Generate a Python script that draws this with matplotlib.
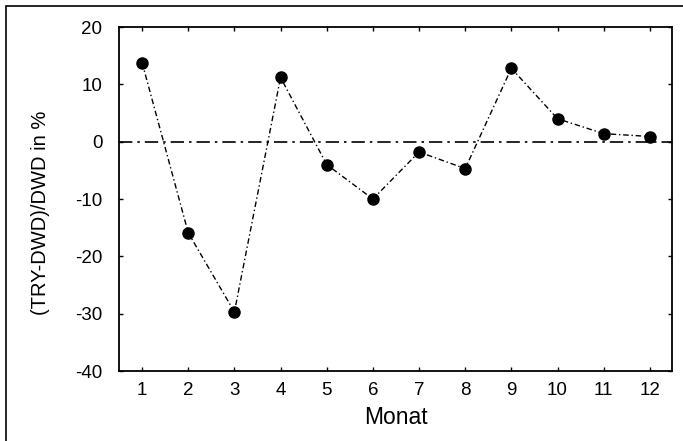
import matplotlib
matplotlib.use("Agg")
import matplotlib.pyplot as plt
from matplotlib.patches import Rectangle

plt.rcParams["font.family"] = ["Liberation Sans", "DejaVu Sans"]
plt.rcParams["axes.unicode_minus"] = False

monat = [1, 2, 3, 4, 5, 6, 7, 8, 9, 10, 11, 12]
abweichung = [13.8, -15.9, -29.7, 11.2, -4.0, -10.0, -1.8, -4.7, 12.8, 4.0, 1.4, 0.9]
y_ticks = [-40, -30, -20, -10, 0, 10, 20]

fig = plt.figure(figsize=(6.83, 4.41), dpi=100)
ax = fig.add_axes([119 / 683, 1 - 371 / 441, (672 - 119) / 683, (371 - 27) / 441])

ax.axhline(0, color="black", lw=1.2, linestyle=(0, (8, 3, 1.5, 3)))
ax.plot(monat, abweichung, color="black", lw=1.0, linestyle=(0, (4, 2, 1, 2)),
        marker="o", markersize=8, markerfacecolor="black")

ax.set_xlim(0.5, 12.48)
ax.set_ylim(-40, 20)
ax.set_xticks(monat)
ax.set_yticks(y_ticks)
ax.tick_params(direction="in", top=True, right=True, length=3, labelsize=13.5, width=1)
ax.tick_params(axis="x", pad=8)
ax.tick_params(axis="y", pad=12)
for s in ax.spines.values():
    s.set_linewidth(1.3)

ax.set_xlabel("Monat", fontsize=16.5, labelpad=5)
ax.set_ylabel("(TRY-DWD)/DWD in %", fontsize=14.5)
ax.yaxis.set_label_coords(50 / 683, 1 - 213 / 441, transform=fig.transFigure)

fig.patches.append(Rectangle((6 / 683, -0.1), 1.2, 1.1 - 6 / 441, transform=fig.transFigure,
                             fill=False, edgecolor="black", lw=1.2))

fig.savefig("out.png", dpi=100)
